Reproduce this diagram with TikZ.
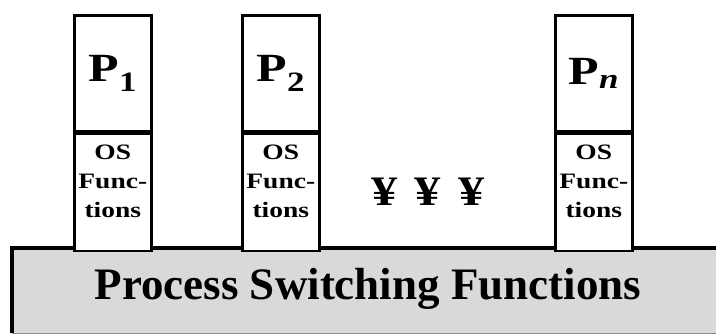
\documentclass[tikz,border=0pt]{standalone}
\usepackage{fontspec}
\setmainfont{Liberation Serif}
\usetikzlibrary{positioning}
\definecolor{barfill}{HTML}{D9D9D9}
\newcommand\stretchtxt[1]{\scalebox{1.25}[1]{#1}}
\tikzset{
  procbox/.style   = {draw=black, line width=2.6pt, fill=white,
                      minimum width=77pt, minimum height=116pt,
                      inner sep=0pt, font=\fontsize{40}{42}\selectfont\bfseries},
  osbox/.style     = {procbox, align=center, minimum height=117pt, text depth=23pt,
                      font=\fontsize{22}{29}\selectfont\bfseries},
  switchbar/.style = {fill=barfill, inner sep=0pt, anchor=north west},
  bartext/.style   = {font=\fontsize{45}{48}\selectfont\bfseries},
  dots/.style      = {font=\fontsize{42}{44}\selectfont\bfseries},
}
\begin{document}
\begin{tikzpicture}[x=1pt, y=-1pt]
  \useasboundingbox (0,0) rectangle (716,333);
  % common layer underneath
  \node[switchbar, minimum width=720pt, minimum height=85pt] (bar) at (12,248) {};
  \draw[black!45, line width=1pt] (bar.south west) -- (bar.south east);
  \draw[line width=4pt] (bar.south west) |- (bar.north east);
  \node[bartext] (title) at (368,289) {Process Switching Functions};
  % the processes
  \node[procbox, anchor=north west] (p1) at (73,14) {\stretchtxt{P\textsubscript{1}}};
  \node[osbox, anchor=north] (os1) at (p1.south) {\stretchtxt{OS}\\\stretchtxt{Func-}\\\stretchtxt{tions}};
  \node[procbox, anchor=north west] (p2) at (241,14) {\stretchtxt{P\textsubscript{2}}};
  \node[osbox, anchor=north] (os2) at (p2.south) {\stretchtxt{OS}\\\stretchtxt{Func-}\\\stretchtxt{tions}};
  \node[procbox, anchor=north west] (pn) at (554,14) {\stretchtxt{P\textsubscript{\itshape n}}};
  \node[osbox, anchor=north] (osn) at (pn.south) {\stretchtxt{OS}\\\stretchtxt{Func-}\\\stretchtxt{tions}};
  \node[dots] (more) at (428,192) {\stretchtxt{¥}\hspace{17pt}\stretchtxt{¥}\hspace{17pt}\stretchtxt{¥}};
\end{tikzpicture}
\end{document}
